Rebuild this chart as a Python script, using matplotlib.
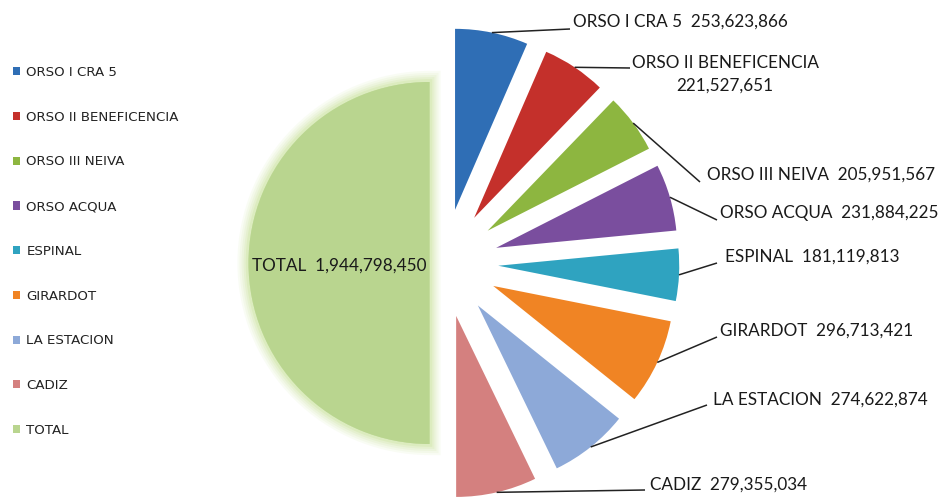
import matplotlib
matplotlib.use('Agg')
import matplotlib.pyplot as plt
import matplotlib.patheffects as pe
from matplotlib.patches import Patch
import numpy as np

categories = ['ORSO I CRA 5', 'ORSO II BENEFICENCIA', 'ORSO III NEIVA', 'ORSO ACQUA',
              'ESPINAL', 'GIRARDOT', 'LA ESTACION', 'CADIZ', 'TOTAL']
values = [253623866, 221527651, 205951567, 231884225, 181119813,
          296713421, 274622874, 279355034, 1944798450]
colors = ['#2F6EB5', '#C4302B', '#8DB640', '#7A4E9E', '#2FA3C0',
          '#F08424', '#8DA9D8', '#D4807F', '#B9D58F']
explode = [0.30] * 8 + [0.08]

W, H = 942, 497
CX, CY, R = 444, 263, 181


def px(x, y):
    return ((x - CX) / R, (CY - y) / R)


fig = plt.figure(figsize=(W / 100, H / 100), dpi=100)
ax = fig.add_axes([0, 0, 1, 1])
wedges, _ = ax.pie(values, colors=colors, startangle=90, counterclock=False,
                   explode=explode, radius=1,
                   wedgeprops=dict(edgecolor='none', linewidth=0))
glow = []
for lw, a in [(16, 0.10), (13, 0.12), (10, 0.15), (7, 0.2), (4, 0.3)]:
    glow.append(pe.Stroke(linewidth=lw, foreground='#C9E39A', alpha=a))
glow.append(pe.Normal())
wedges[-1].set_path_effects(glow)
ax.set_xlim(-CX / R, (W - CX) / R)
ax.set_ylim(-(H - CY) / R, CY / R)
ax.set_aspect('equal')
ax.axis('off')

# data labels
label_text = []
for c, v in zip(categories, values):
    if c == 'ORSO II BENEFICENCIA':
        label_text.append(f"{c}\n{v:,}")
    else:
        label_text.append(f"{c}  {v:,}")

label_pos = [(573, 22, 'left'), (725, 74, 'center'), (707, 175, 'left'),
             (720, 213, 'left'), (725, 257, 'left'), (720, 331, 'left'),
             (713, 400, 'left'), (650, 485, 'left')]
line_end = [(570, 29), (630, 68), (700, 182), (717, 220), (717, 263),
            (717, 337), (707, 405), (645, 490)]

lab_font = dict(family='Lato', fontsize=12.3, color='#1a1a1a')
for i in range(8):
    w = wedges[i]
    th = np.deg2rad((w.theta1 + w.theta2) / 2)
    sx = w.center[0] + w.r * np.cos(th)
    sy = w.center[1] + w.r * np.sin(th)
    ex, ey = px(*line_end[i])
    ax.plot([sx, ex], [sy, ey], color='#222222', lw=1.1, solid_capstyle='butt')
    tx, ty = px(label_pos[i][0], label_pos[i][1])
    ax.text(tx, ty, label_text[i], ha=label_pos[i][2], va='center',
            multialignment='center', linespacing=1.5, **lab_font)

tx, ty = px(339, 266)
ax.text(tx, ty, label_text[8], ha='center', va='center', **lab_font)

handles = [Patch(facecolor=c, edgecolor='none') for c in colors]
leg = fig.legend(handles, categories, loc='upper left',
                 bbox_to_anchor=(13 / W, 1 - 66 / H), frameon=False,
                 prop=dict(family='DejaVu Sans', size=9.6),
                 handlelength=0.55, handleheight=0.55, handletextpad=0.45,
                 labelspacing=2.38, borderpad=0, borderaxespad=0)
for t in leg.get_texts():
    t.set_color('#222222')

fig.savefig('out.png', dpi=100, facecolor='white')
